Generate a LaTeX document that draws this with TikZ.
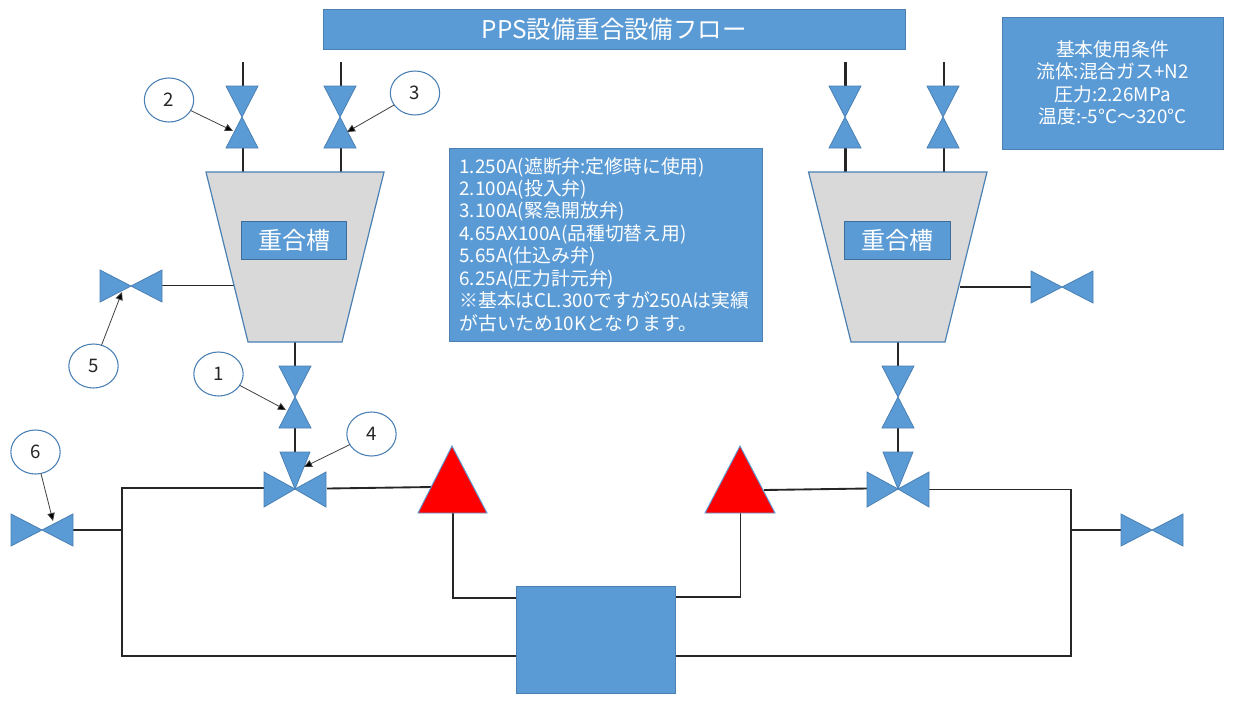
\documentclass[tikz,border=0pt]{standalone}
\usepackage{fontspec}
\setmainfont{Noto Sans CJK JP}
\usetikzlibrary{arrows.meta,shapes.geometric}
\definecolor{fillblue}{HTML}{5B9BD5}
\definecolor{edgeblue}{HTML}{4A80B4}
\definecolor{tankgray}{HTML}{D9D9D9}
\definecolor{pipe}{HTML}{262626}
\tikzset{
  x=0.75pt,y=-0.75pt,
  pipeline/.style={draw=pipe,line width=1.6pt,line cap=rect},
  thinpipe/.style={draw=pipe,line width=1.4pt},
  valvepart/.style={fill=fillblue,draw=edgeblue,line width=0.6pt,line join=miter},
  tank/.style={fill=tankgray,draw=edgeblue,line width=0.9pt},
  redtri/.style={fill=red,draw=fillblue,line width=0.7pt},
  bluebox/.style={fill=fillblue,draw=edgeblue,line width=0.7pt,text=white,inner sep=0pt,outer sep=0pt,align=center},
  tanklabel/.style={bluebox,draw=edgeblue!85!black,line width=0.9pt,minimum width=79pt,minimum height=29pt,font=\fontsize{18pt}{20pt}\selectfont},
  infotext/.style={font=\fontsize{14.1pt}{16.85pt}\selectfont},
  callout/.style={ellipse,draw=edgeblue,line width=0.8pt,fill=white,minimum width=37pt,minimum height=33pt,inner sep=0pt,outer sep=0pt,font=\fontsize{14pt}{15pt}\selectfont,text=black!85},
  leader/.style={draw=black!75,line width=0.6pt,-{Triangle[length=6pt,width=5.5pt,fill=black]}},
}
\newcommand{\vvalve}[3]{%
  \coordinate (#1t) at (#2,#3-31);
  \coordinate (#1b) at (#2,#3+31);
  \path[valvepart] (#2-16,#3-31) -- (#2+16,#3-31) -- (#2-16,#3+31) -- (#2+16,#3+31) -- cycle;}
\newcommand{\hvalve}[3]{%
  \coordinate (#1l) at (#2-31,#3);
  \coordinate (#1r) at (#2+31,#3);
  \path[valvepart] (#2-31,#3-16) -- (#2-31,#3+16) -- (#2+31,#3-16) -- (#2+31,#3+16) -- cycle;}
\newcommand{\threeway}[3]{%
  \coordinate (#1t) at (#2,#3-37);
  \coordinate (#1l) at (#2-31,#3-1);
  \coordinate (#1r) at (#2+31,#3-1);
  \path[valvepart] (#2-15,#3-37) -- (#2+15,#3-37) -- (#2,#3) -- cycle;
  \path[valvepart] (#2-31,#3-17) -- (#2,#3) -- (#2-31,#3+18) -- cycle;
  \path[valvepart] (#2+31,#3-17) -- (#2,#3) -- (#2+31,#3+18) -- cycle;}
\begin{document}
\begin{tikzpicture}
\useasboundingbox (0,0) rectangle (1252,708);

% free ends and junctions
\coordinate (inA) at (243,63); \coordinate (inB) at (341,63);
\coordinate (inC) at (845.5,63); \coordinate (inD) at (944,63);
\coordinate (tankAtop1) at (243,172); \coordinate (tankAtop2) at (341,172);
\coordinate (tankBtop1) at (845.5,172); \coordinate (tankBtop2) at (944,172);
\coordinate (tankAbot) at (295,342); \coordinate (tankBbot) at (898,342);
\coordinate (tankAside) at (235,285.5); \coordinate (tankBside) at (960,287);
\coordinate (jLtop) at (122,488); \coordinate (jLmid) at (122,530); \coordinate (jLbot) at (122,656);
\coordinate (jRtop) at (1071,489.5); \coordinate (jRmid) at (1071,530); \coordinate (jRbot) at (1071,656);
\coordinate (redAside) at (432,487); \coordinate (redBside) at (764,490);
\coordinate (redAbase) at (453,513); \coordinate (redBbase) at (740.5,513);
\coordinate (redAcorner) at (453,598); \coordinate (redBcorner) at (740.5,597);
\coordinate (pumpAin) at (516,598); \coordinate (pumpBin) at (676,597);
\coordinate (pumpAret) at (516,656); \coordinate (pumpBret) at (676,656);
\coordinate (v1t) at (295,366); \coordinate (v1b) at (295,428);
\coordinate (v1Rt) at (898,366); \coordinate (v1Rb) at (898,428);
\coordinate (w4t) at (295,452); \coordinate (w4l) at (264,488); \coordinate (w4r) at (327,488.5);
\coordinate (w4Rt) at (898,452); \coordinate (w4Rl) at (867,488.5); \coordinate (w4Rr) at (929,489.5);
\coordinate (v2t) at (243,86); \coordinate (v2b) at (243,148);
\coordinate (v3t) at (341,86); \coordinate (v3b) at (341,148);
\coordinate (vCt) at (845.5,86); \coordinate (vCb) at (845.5,148);
\coordinate (vDt) at (944,86); \coordinate (vDb) at (944,148);
\coordinate (v5r) at (162,285.5); \coordinate (vEl) at (1031,287);
\coordinate (v6r) at (73,530); \coordinate (vFl) at (1121,530);

% pipes
\draw[pipeline] (inA) -- (v2t); \draw[pipeline] (v2b) -- (tankAtop1);
\draw[pipeline] (inB) -- (v3t); \draw[pipeline] (v3b) -- (tankAtop2);
\draw[pipeline] (inC) -- (vCt); \draw[pipeline] (vCb) -- (tankBtop1);
\draw[pipeline] (inD) -- (vDt); \draw[pipeline] (vDb) -- (tankBtop2);
\draw[pipeline] (tankAbot) -- (v1t); \draw[pipeline] (v1b) -- (w4t);
\draw[pipeline] (tankBbot) -- (v1Rt); \draw[pipeline] (v1Rb) -- (w4Rt);
\draw[thinpipe] (tankAside) -- (v5r);
\draw[thinpipe] (tankBside) -- (vEl);
\draw[thinpipe] (w4l) -- (jLtop) -- (jLbot) -- (pumpAret);
\draw[thinpipe] (jLmid) -- (v6r);
\draw[thinpipe] (w4r) -- (redAside);
\draw[thinpipe] (redBside) -- (w4Rl);
\draw[thinpipe] (w4Rr) -- (jRtop) -- (jRbot) -- (pumpBret);
\draw[thinpipe] (jRmid) -- (vFl);
\draw[thinpipe] (redAbase) -- (redAcorner) -- (pumpAin);
\draw[thinpipe] (redBbase) -- (redBcorner) -- (pumpBin);

% tanks
\path[tank] (206,172) -- (384,172) -- (342,342) -- (248,342) -- cycle;
\path[tank] (808.5,172) -- (987,172) -- (945,342) -- (851,342) -- cycle;

% valves
\vvalve{a}{242}{117}
\vvalve{b}{340}{117}
\vvalve{c}{845}{117}
\vvalve{d}{943}{117}
\vvalve{e}{295}{397}
\vvalve{f}{898}{397}
\hvalve{g}{131}{286}
\hvalve{h}{1062}{287}
\hvalve{i}{42}{530}
\hvalve{j}{1152}{530}
\threeway{k}{295}{489}
\threeway{m}{898}{489}

% red triangles
\path[redtri] (452,446) -- (487,513) -- (418,513) -- cycle;
\path[redtri] (740,446) -- (775,513) -- (705,513) -- cycle;

% boxes
\node[bluebox,minimum width=436.5pt,minimum height=30.5pt,font=\fontsize{18.3pt}{20pt}\selectfont] (title) at (614,29.5) {PPS設備重合設備フロー};
\node[bluebox,minimum width=165.75pt,minimum height=99pt,infotext] (conditions) at (1112.5,83) {基本使用条件\\流体:混合ガス+N2\\圧力:2.26MPa\\温度:-5°C～320°C};
\node[bluebox,minimum width=234.75pt,minimum height=144.75pt,infotext,align=left,text width=219pt] (notes) at (605.5,244.5) {1.250A(遮断弁:定修時に使用)\\2.100A(投入弁)\\3.100A(緊急開放弁)\\4.65AX100A(品種切替え用)\\5.65A(仕込み弁)\\6.25A(圧力計元弁)\\※基本はCL.300ですが250Aは実績\\が古いため10Kとなります。};
\node[tanklabel] (labelA) at (294,240.5) {重合槽};
\node[tanklabel] (labelB) at (897.5,240.5) {重合槽};
\node[bluebox,minimum width=119.5pt,minimum height=80.25pt] (pump) at (596,639.5) {};

% callouts
\coordinate (t2) at (233,131); \coordinate (t3) at (347,132);
\coordinate (t5) at (122,292); \coordinate (t1) at (286,410);
\coordinate (t4) at (304,467); \coordinate (t6) at (53,521);
\node[callout] (c2) at (169,100) {2};
\node[callout] (c3) at (415,93) {3};
\node[callout] (c5) at (93.5,366) {5};
\node[callout] (c1) at (218.5,374) {1};
\node[callout] (c4) at (371.5,434) {4};
\node[callout] (c6) at (35.5,452) {6};
\draw[leader] (c2) -- (t2);
\draw[leader] (c3) -- (t3);
\draw[leader] (c5) -- (t5);
\draw[leader] (c1) -- (t1);
\draw[leader] (c4) -- (t4);
\draw[leader] (c6) -- (t6);
\end{tikzpicture}
\end{document}
